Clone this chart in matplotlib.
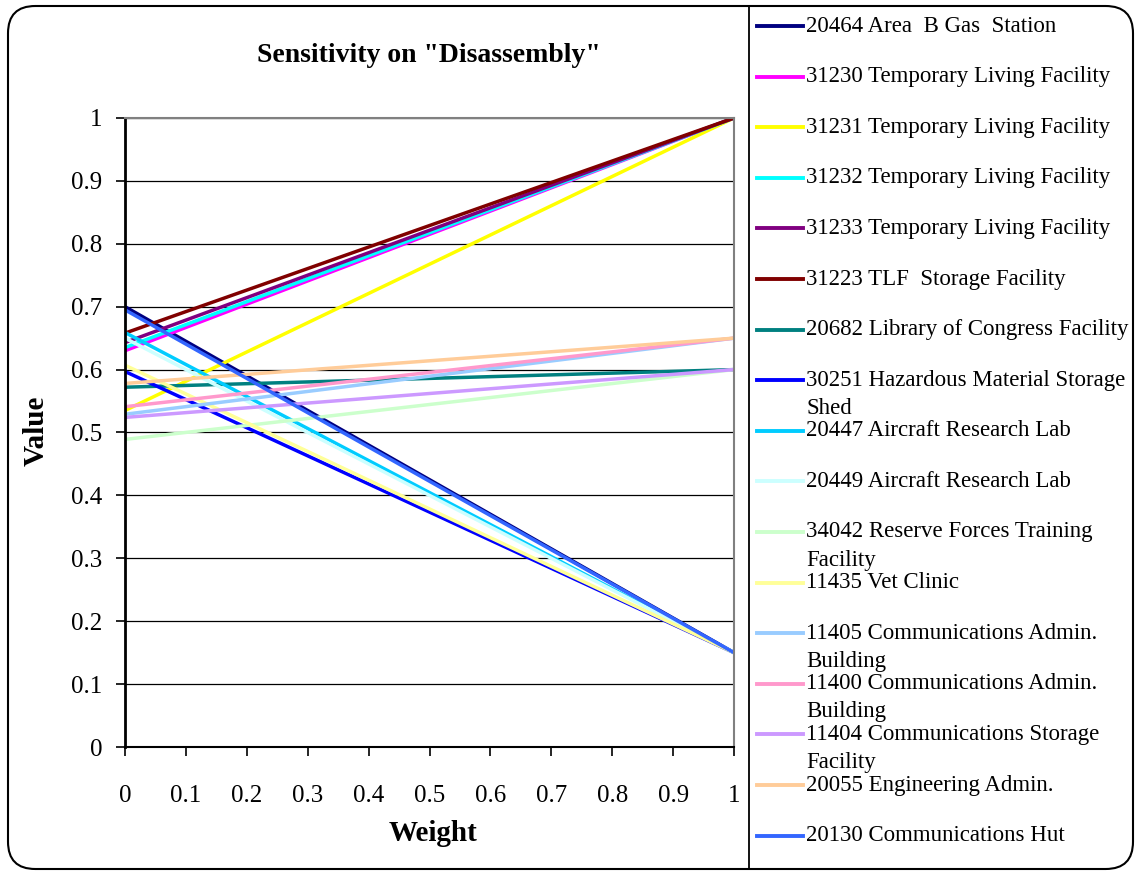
import matplotlib
matplotlib.use("Agg")
import matplotlib.pyplot as plt
from matplotlib.lines import Line2D
from matplotlib.patches import FancyBboxPatch

plt.rcParams['font.family'] = ['Liberation Serif', 'DejaVu Serif']

weights = [0, 1]
labels = [
    "20464 Area  B Gas  Station",
    "31230 Temporary Living Facility",
    "31231 Temporary Living Facility",
    "31232 Temporary Living Facility",
    "31233 Temporary Living Facility",
    "31223 TLF  Storage Facility",
    "20682 Library of Congress Facility",
    "30251 Hazardous Material Storage\nShed",
    "20447 Aircraft Research Lab",
    "20449 Aircraft Research Lab",
    "34042 Reserve Forces Training\nFacility",
    "11435 Vet Clinic",
    "11405 Communications Admin.\nBuilding",
    "11400 Communications Admin.\nBuilding",
    "11404 Communications Storage\nFacility",
    "20055 Engineering Admin.",
    "20130 Communications Hut",
]
start_values = [0.700, 0.630, 0.535, 0.635, 0.643, 0.658, 0.572, 0.597, 0.659,
                0.650, 0.489, 0.607, 0.529, 0.541, 0.524, 0.578, 0.695]
end_values = [0.15, 1.0, 1.0, 1.0, 1.0, 1.0, 0.60, 0.15, 0.15,
              0.15, 0.60, 0.15, 0.65, 0.65, 0.60, 0.65, 0.15]
colors = ["#000080", "#FF00FF", "#FFFF00", "#00FFFF", "#800080", "#800000",
          "#008080", "#0000FF", "#00CCFF", "#CCFFFF", "#CCFFCC", "#FFFF99",
          "#99CCFF", "#FF99CC", "#CC99FF", "#FFCC99", "#3366FF"]
xticks = [0, 0.1, 0.2, 0.3, 0.4, 0.5, 0.6, 0.7, 0.8, 0.9, 1]
yticks = [0, 0.1, 0.2, 0.3, 0.4, 0.5, 0.6, 0.7, 0.8, 0.9, 1]

W, H = 1138, 871
fig = plt.figure(figsize=(W / 100, H / 100), dpi=100)

def fx(px):
    return px / W

def fy(py):
    return 1 - py / H

# outer rounded frame
frame = FancyBboxPatch((fx(8), fy(869)), fx(1133) - fx(8), fy(6) - fy(869),
                       boxstyle="round,pad=0,rounding_size=0.024",
                       mutation_aspect=W / H,
                       transform=fig.transFigure, fill=False,
                       edgecolor="black", linewidth=1.5)
fig.add_artist(frame)
# legend box left edge
fig.add_artist(Line2D([fx(749), fx(749)], [fy(869), fy(6)],
                      transform=fig.transFigure, color="black", linewidth=1.3))

ax = fig.add_axes([fx(125), fy(747), fx(734) - fx(125), fy(118) - fy(747)])
for lab, s, e, c in zip(labels, start_values, end_values, colors):
    ax.plot(weights, [s, e], color=c, linewidth=2.5, solid_capstyle='butt')

ax.set_xlim(0, 1)
ax.set_ylim(0, 1)
ax.set_xticks(xticks)
ax.set_xticklabels([f"{t:g}" for t in xticks])
ax.set_yticks(yticks)
ax.set_yticklabels([f"{t:g}" for t in yticks])
ax.yaxis.grid(True, color="black", linewidth=0.9)
ax.set_axisbelow(True)
ax.tick_params(axis='both', labelsize=18, direction='out', length=6.5, width=1.2, color='black')
ax.tick_params(axis='x', pad=21)
ax.tick_params(axis='y', pad=10)
ax.spines['left'].set_color('black')
ax.spines['left'].set_linewidth(2)
ax.spines['bottom'].set_color('black')
ax.spines['bottom'].set_linewidth(1.5)
ax.spines['top'].set_color('#808080')
ax.spines['right'].set_color('#808080')
ax.spines['top'].set_linewidth(1.5)
ax.spines['right'].set_linewidth(1.5)

fig.text(fx(429), fy(56), 'Sensitivity on "Disassembly"', ha='center', va='center',
         fontsize=20, fontweight='bold')
fig.text(fx(36), fy(431), 'Value', ha='center', va='center', rotation=90,
         fontsize=21, fontweight='bold')
fig.text(fx(433), fy(833), 'Weight', ha='center', va='center',
         fontsize=21, fontweight='bold')

# legend, drawn manually
y0 = 26
step = 50.6
for i, (lab, c) in enumerate(zip(labels, colors)):
    yy = y0 + i * step
    fig.add_artist(Line2D([fx(757), fx(803)], [fy(yy), fy(yy)],
                          transform=fig.transFigure, color=c, linewidth=2.8))
    lines = lab.split("\n")
    for j, ln in enumerate(lines):
        fig.text(fx(806), fy(yy + j * 28), ln, ha='left', va='center',
                 fontsize=16.5)

fig.savefig("out.png", dpi=100)
